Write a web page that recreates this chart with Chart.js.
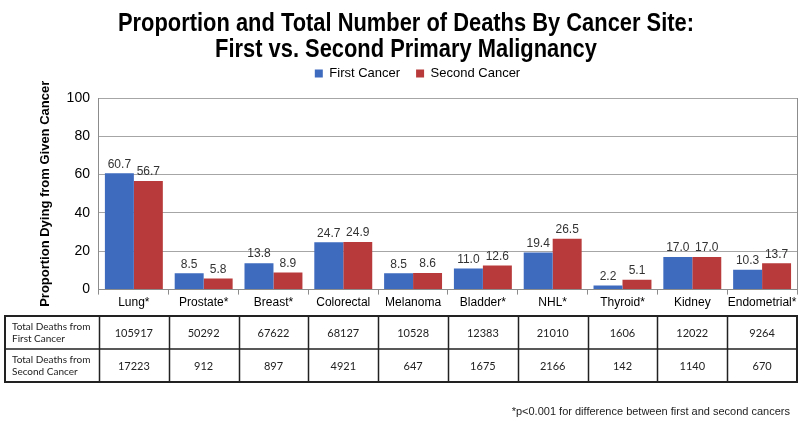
<!DOCTYPE html>
<html>
<head>
<meta charset="utf-8">
<script src="https://cdn.jsdelivr.net/npm/chart.js@4"></script>
<style>
  html, body { margin: 0; padding: 0; background: #fff; }
  #wrap { width: 800px; height: 423px; }
</style>
</head>
<body>
<div id="wrap"><canvas id="deathChart" width="800" height="423"></canvas></div>
<script>
// chart data
const sites = ['Lung*', 'Prostate*', 'Breast*', 'Colorectal', 'Melanoma', 'Bladder*', 'NHL*', 'Thyroid*', 'Kidney', 'Endometrial*'];
const firstPct = [60.7, 8.5, 13.8, 24.7, 8.5, 11.0, 19.4, 2.2, 17.0, 10.3];
const secondPct = [56.7, 5.8, 8.9, 24.9, 8.6, 12.6, 26.5, 5.1, 17.0, 13.7];
const firstTotals = [105917, 50292, 67622, 68127, 10528, 12383, 21010, 1606, 12022, 9264];
const secondTotals = [17223, 912, 897, 4921, 647, 1675, 2166, 142, 1140, 670];
const rowLabels = [['Total Deaths from', 'First Cancer'], ['Total Deaths from', 'Second Cancer']];
const titleLines = ['Proportion and Total Number of Deaths By Cancer Site:', 'First vs. Second Primary Malignancy'];
const yTicks = [0, 20, 40, 60, 80, 100];

const blue = '#3f6bbf';
const red = '#b93a3a';
const sans = '"Liberation Sans", Arial, sans-serif';

// title drawn by hand so it can be narrowed like the original
const titlePlugin = {
    id: 'titlePlugin',
    afterDraw(chart) {
        const c = chart.ctx;
        c.save();
        c.font = 'bold 25px ' + sans;
        c.fillStyle = '#000';
        c.textAlign = 'center';
        c.textBaseline = 'alphabetic';
        const w = c.measureText(titleLines[0]).width;
        const sx = 576 / w;
        c.translate(406, 0);
        c.scale(sx, 1);
        c.fillText(titleLines[0], 0, 31);
        c.fillText(titleLines[1], 0, 57);
        c.restore();
    }
};

// adjust room below the legend
const legendGap = {
    id: 'legendGap',
    beforeInit(chart) {
        const fit = chart.legend.fit;
        chart.legend.fit = function () {
            fit.bind(chart.legend)();
            this.height += 8;
        };
    }
};

// value labels above bars
const valueLabels = {
    id: 'valueLabels',
    afterDatasetsDraw(chart) {
        const c = chart.ctx;
        c.save();
        c.font = '12px ' + sans;
        c.fillStyle = '#333';
        c.textAlign = 'center';
        c.textBaseline = 'bottom';
        chart.data.datasets.forEach((ds, i) => {
            chart.getDatasetMeta(i).data.forEach((bar, j) => {
                c.fillText(ds.data[j].toFixed(1), bar.x, bar.y - 3);
            });
        });
        c.restore();
    }
};

// plot border, table and footnote
const extras = {
    id: 'extras',
    afterDraw(chart) {
        const c = chart.ctx;
        const area = chart.chartArea;
        const xs = chart.scales.x;
        c.save();
        c.strokeStyle = '#8c8c8c';
        c.lineWidth = 1;
        c.beginPath();
        c.moveTo(area.right + 0.5, area.top);
        c.lineTo(area.right + 0.5, area.bottom);
        c.stroke();

        // table
        const step = (area.right - area.left) / sites.length;
        const tLeft = 5, tTop = 316, rowH = 33;
        const tRight = area.right;
        c.strokeStyle = '#222';
        c.lineWidth = 2;
        c.strokeRect(tLeft, tTop, tRight - tLeft, rowH * 2);
        c.lineWidth = 1.5;
        c.beginPath();
        c.moveTo(tLeft, tTop + rowH);
        c.lineTo(tRight, tTop + rowH);
        for (let i = 0; i < sites.length; i++) {
            const x = Math.round(area.left + i * step) + 0.5;
            c.moveTo(x, tTop);
            c.lineTo(x, tTop + rowH * 2);
        }
        c.stroke();

        c.fillStyle = '#222';
        c.font = '10px Lato, "Open Sans", sans-serif';
        c.textAlign = 'left';
        c.textBaseline = 'middle';
        rowLabels.forEach((lines, r) => {
            const cy = tTop + r * rowH + rowH / 2;
            c.fillText(lines[0], tLeft + 7, cy - 6);
            c.fillText(lines[1], tLeft + 7, cy + 6);
        });
        c.font = '11px Lato, "Open Sans", sans-serif';
        c.textAlign = 'center';
        [firstTotals, secondTotals].forEach((row, r) => {
            const cy = tTop + r * rowH + rowH / 2 + 1;
            row.forEach((v, i) => {
                c.fillText(String(v), xs.getPixelForValue(i), cy);
            });
        });

        // footnote
        c.font = '11px ' + sans;
        c.textAlign = 'right';
        c.fillText('*p<0.001 for difference between first and second cancers', 790, 412);
        c.restore();
    }
};

const ctx = document.getElementById('deathChart').getContext('2d');
const chart = new Chart(ctx, {
    type: 'bar',
    data: {
        labels: sites,
        datasets: [
            { label: 'First Cancer', data: firstPct, backgroundColor: blue },
            { label: 'Second Cancer', data: secondPct, backgroundColor: red }
        ]
    },
    options: {
        responsive: false,
        animation: false,
        layout: { padding: { top: 51, right: 3, bottom: 112, left: 38 } },
        datasets: { bar: { categoryPercentage: 0.83, barPercentage: 1.0 } },
        plugins: {
            title: { display: false },
            legend: {
                labels: {
                    boxWidth: 8, boxHeight: 8, color: '#000',
                    font: { family: sans, size: 13 },
                    padding: 16
                }
            },
            tooltip: { enabled: false }
        },
        scales: {
            x: {
                grid: { offset: true, drawOnChartArea: false, drawTicks: true, tickLength: 5, color: '#8c8c8c' },
                border: { color: '#8c8c8c' },
                ticks: { color: '#000', font: { family: sans, size: 12 }, maxRotation: 0, autoSkip: false, padding: 1 }
            },
            y: {
                min: 0, max: 100,
                afterBuildTicks(axis) { axis.ticks = yTicks.map(v => ({ value: v })); },
                grid: { color: '#a6a6a6', drawTicks: false },
                border: { color: '#8c8c8c' },
                ticks: { color: '#000', font: { family: sans, size: 14 }, padding: 9 },
                title: {
                    display: true,
                    text: 'Proportion Dying from Given Cancer',
                    color: '#000',
                    font: { family: sans, size: 13, weight: 'bold' },
                    padding: { top: 0, bottom: 4 }
                }
            }
        }
    },
    plugins: [legendGap, titlePlugin, valueLabels, extras]
});
</script>
</body>
</html>
